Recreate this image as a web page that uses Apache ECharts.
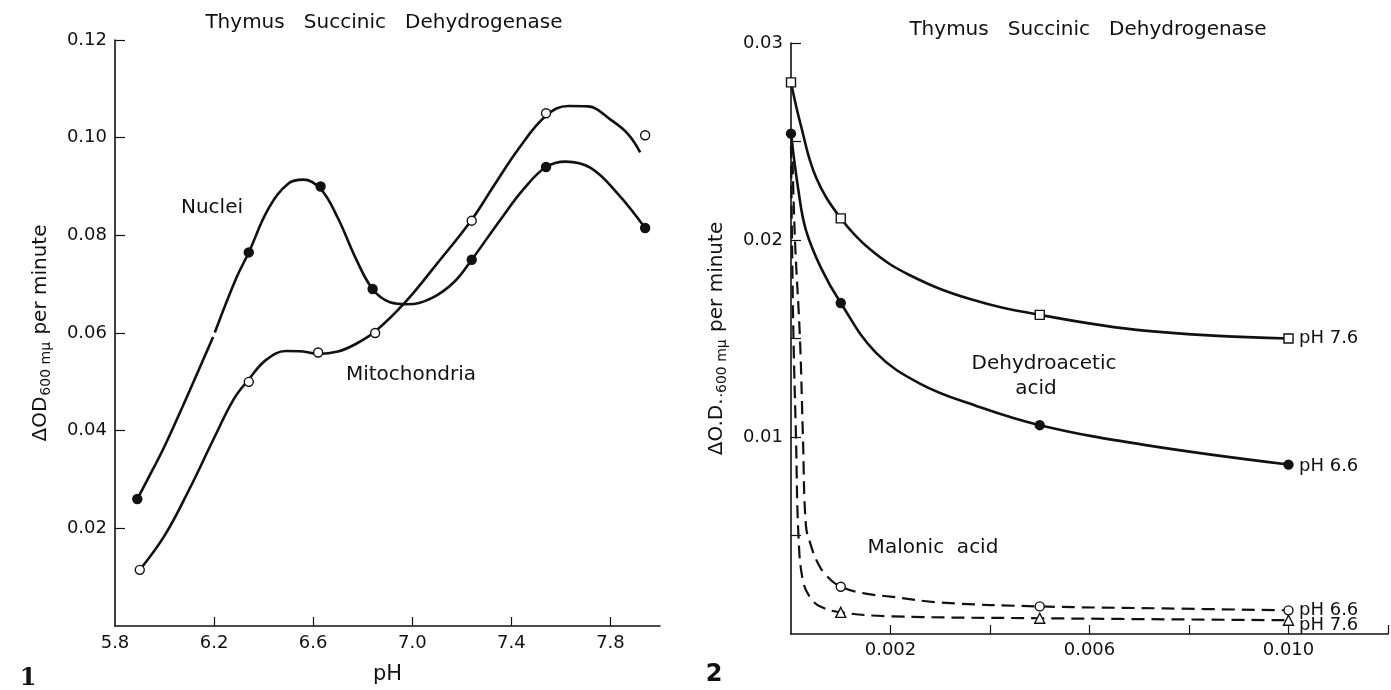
<!DOCTYPE html>
<html><head><meta charset="utf-8">
<script src="https://cdn.jsdelivr.net/npm/echarts@6/dist/echarts.min.js"></script>
<style>html,body{margin:0;padding:0;background:#fff}#c{width:1391px;height:690px}</style>
</head><body><div id="c"></div>
<script>
// ---------- Figure 1: activity vs pH ----------
const fig1XTicks = [6.2, 6.6, 7.0, 7.4, 7.8];
const fig1XLabels = [5.8, 6.2, 6.6, 7.0, 7.4, 7.8];
const fig1YTicks = [0.02, 0.04, 0.06, 0.08, 0.10, 0.12];
const nucleiPoints = [[5.89,0.026],[6.34,0.0765],[6.63,0.090],[6.84,0.069],[7.24,0.075],[7.54,0.094],[7.94,0.0815]];
const mitoPoints = [[5.90,0.0115],[6.34,0.050],[6.62,0.056],[6.85,0.060],[7.24,0.083],[7.54,0.105],[7.94,0.1005]];
// hand-drawn curves (nuclei curve has a small break near pH 6.2)
const nucleiCurveA = [[5.89,0.026],[5.95,0.0318],[6.0,0.0368],[6.09,0.0469],[6.196,0.0592]];
const nucleiCurveB = [[6.203,0.0601],[6.29,0.0713],[6.34,0.0765],[6.42,0.0855],[6.5,0.0906],[6.56,0.0914],[6.63,0.0895],[6.7,0.0835],[6.77,0.0755],[6.84,0.069],[6.91,0.0663],[6.98,0.0659],[7.08,0.0672],[7.17,0.0705],[7.24,0.075],[7.35,0.0828],[7.45,0.0895],[7.54,0.094],[7.62,0.0951],[7.72,0.0938],[7.83,0.0885],[7.94,0.0815]];
const mitoCurve = [[5.90,0.0115],[6.0,0.0185],[6.1,0.028],[6.2,0.0385],[6.28,0.0465],[6.34,0.0505],[6.41,0.0545],[6.49,0.0563],[6.56,0.0562],[6.62,0.0557],[6.7,0.0562],[6.77,0.0577],[6.85,0.0603],[6.97,0.0662],[7.1,0.0742],[7.24,0.0832],[7.33,0.0902],[7.43,0.0978],[7.54,0.1045],[7.63,0.1065],[7.71,0.1064],[7.8,0.1037],[7.87,0.1008],[7.92,0.097]];

// ---------- Figure 2: activity vs inhibitor concentration ----------
const fig2XTicks = [0.002, 0.004, 0.006, 0.008, 0.010, 0.012];
const fig2XLabels = [0.002, 0.006, 0.010];
const fig2YTicks = [0.005, 0.010, 0.015, 0.020, 0.025, 0.030];
const fig2YLabels = [0.01, 0.02, 0.03];
const dha76Points = [[0,0.028],[0.001,0.0211],[0.005,0.0162],[0.010,0.0150]];
const dha66Points = [[0,0.0254],[0.001,0.0168],[0.005,0.0106],[0.010,0.0086]];
const mal66Points = [[0.001,0.0024],[0.005,0.0014],[0.010,0.0012]];
const mal76Points = [[0.001,0.0011],[0.005,0.0008],[0.010,0.0007]];
const dha76Curve = [[0,0.028],[0.0002,0.0258],[0.0005,0.0232],[0.001,0.0211],[0.0016,0.0195],[0.0024,0.0182],[0.0036,0.0170],[0.005,0.0162],[0.0071,0.0154],[0.010,0.0150]];
const dha66Curve = [[0,0.0254],[0.00015,0.0225],[0.0003,0.0205],[0.0006,0.0186],[0.001,0.0168],[0.0017,0.0143],[0.0026,0.0127],[0.0037,0.0116],[0.005,0.0106],[0.0071,0.0096],[0.010,0.0086]];
const mal66Curve = [[0.00002,0.025],[0.00008,0.020],[0.00018,0.015],[0.00024,0.010],[0.0003,0.0055],[0.0004,0.0045],[0.00052,0.0037],[0.0007,0.0030],[0.001,0.0024],[0.0015,0.00205],[0.002,0.0019],[0.003,0.0016],[0.005,0.0014],[0.0075,0.0013],[0.010,0.0012]];
const mal76Curve = [[0.0,0.0248],[0.00002,0.020],[0.00005,0.015],[0.0001,0.010],[0.00015,0.005],[0.00024,0.0027],[0.0004,0.0018],[0.0006,0.00138],[0.001,0.0011],[0.002,0.0009],[0.005,0.0008],[0.010,0.0007]];

const FONT = 'DejaVu Sans';
const K = '#111';
const chart = echarts.init(document.getElementById('c'), null, {renderer: 'canvas'});

function curve(data, xi, dashed) {
  return {type: 'line', xAxisIndex: xi, yAxisIndex: xi, data: data, smooth: 0.4,
    showSymbol: false, silent: true, z: 2, clip: false,
    lineStyle: {color: K, width: dashed ? 2.2 : 2.6, type: dashed ? [13, 7] : 'solid'}};
}
function pts(data, xi, symbol, filled) {
  return {type: 'scatter', xAxisIndex: xi, yAxisIndex: xi, data: data, symbol: symbol, symbolSize: symbol === 'triangle' ? 10 : 9, z: 5,
    itemStyle: {color: filled ? K : '#fff', borderColor: K, borderWidth: 1.4, opacity: 1}};
}
const tickStyle = {color: K, width: 1.2};
const labelBase = {color: K, fontFamily: FONT, fontSize: 18};

const option = {
  backgroundColor: '#fff',
  animation: false,
  textStyle: {fontFamily: FONT},
  grid: [
    {left: 115, top: 40, width: 545, height: 591},
    {left: 791, top: 43, width: 597, height: 591}
  ],
  xAxis: [
    {type: 'value', gridIndex: 0, min: 5.8, max: 8.0, splitLine: {show: false},
      axisLine: {onZero: false, lineStyle: {color: K, width: 1.6}},
      axisTick: {inside: true, length: 9, lineStyle: tickStyle, customValues: fig1XTicks},
      axisLabel: Object.assign({}, labelBase, {margin: 8, customValues: fig1XLabels, formatter: v => v.toFixed(1)}),
      name: 'pH', nameLocation: 'middle', nameGap: 38, nameTextStyle: {color: K, fontFamily: FONT, fontSize: 21}},
    {type: 'value', gridIndex: 1, min: 0, max: 0.012, splitLine: {show: false},
      axisLine: {onZero: false, lineStyle: {color: K, width: 1.6}},
      axisTick: {inside: true, length: 9, lineStyle: tickStyle, customValues: fig2XTicks},
      axisLabel: Object.assign({}, labelBase, {margin: 7, customValues: fig2XLabels, formatter: v => v.toFixed(3)})}
  ],
  yAxis: [
    {type: 'value', gridIndex: 0, min: 0, max: 0.12, splitLine: {show: false},
      axisLine: {onZero: false, lineStyle: {color: K, width: 1.6}},
      axisTick: {inside: true, length: 10, lineStyle: tickStyle, customValues: fig1YTicks},
      axisLabel: Object.assign({}, labelBase, {margin: 8, customValues: fig1YTicks, formatter: v => v.toFixed(2)}),
      name: '{m|ΔOD}{s|600 mμ}{m| per minute}', nameLocation: 'middle', nameGap: 62,
      nameTextStyle: {color: K, fontFamily: FONT, rich: {m: {fontSize: 20, fontFamily: FONT, color: K}, s: {fontSize: 14, fontFamily: FONT, color: K, padding: [10, 1, 0, 1]}}}},
    {type: 'value', gridIndex: 1, min: 0, max: 0.03, splitLine: {show: false},
      axisLine: {onZero: false, lineStyle: {color: K, width: 1.6}},
      axisTick: {inside: true, length: 10, lineStyle: tickStyle, customValues: fig2YTicks},
      axisLabel: Object.assign({}, labelBase, {margin: 8, customValues: fig2YLabels, formatter: v => v.toFixed(2)}),
      name: '{m|ΔO.D.}{s|·600 mμ}{m| per minute}', nameLocation: 'middle', nameGap: 62,
      nameTextStyle: {color: K, fontFamily: FONT, rich: {m: {fontSize: 20, fontFamily: FONT, color: K}, s: {fontSize: 14, fontFamily: FONT, color: K, padding: [10, 1, 0, 1]}}}}
  ],
  series: [
    curve(nucleiCurveA, 0, false), curve(nucleiCurveB, 0, false), curve(mitoCurve, 0, false),
    pts(nucleiPoints, 0, 'circle', true), pts(mitoPoints, 0, 'circle', false),
    curve(dha76Curve, 1, false), curve(dha66Curve, 1, false),
    curve(mal66Curve, 1, true), curve(mal76Curve, 1, true),
    pts(dha76Points, 1, 'rect', false), pts(dha66Points, 1, 'circle', true),
    pts(mal66Points, 1, 'circle', false), pts(mal76Points, 1, 'triangle', false)
  ],
  graphic: [
    {type: 'text', x: 384, y: 23, style: {text: 'Thymus   Succinic   Dehydrogenase', fontFamily: FONT, fontSize: 20, fill: K, align: 'center', verticalAlign: 'middle'}},
    {type: 'text', x: 1088, y: 30, style: {text: 'Thymus   Succinic   Dehydrogenase', fontFamily: FONT, fontSize: 20, fill: K, align: 'center', verticalAlign: 'middle'}},
    {type: 'text', x: 212, y: 208, style: {text: 'Nuclei', fontFamily: FONT, fontSize: 20, fill: K, align: 'center', verticalAlign: 'middle'}},
    {type: 'text', x: 411, y: 375, style: {text: 'Mitochondria', fontFamily: FONT, fontSize: 20, fill: K, align: 'center', verticalAlign: 'middle'}},
    {type: 'text', x: 1044, y: 364, style: {text: 'Dehydroacetic', fontFamily: FONT, fontSize: 20, fill: K, align: 'center', verticalAlign: 'middle'}},
    {type: 'text', x: 1036, y: 389, style: {text: 'acid', fontFamily: FONT, fontSize: 20, fill: K, align: 'center', verticalAlign: 'middle'}},
    {type: 'text', x: 933, y: 548, style: {text: 'Malonic  acid', fontFamily: FONT, fontSize: 20, fill: K, align: 'center', verticalAlign: 'middle'}},
    {type: 'text', x: 1299, y: 338, style: {text: 'pH 7.6', fontFamily: FONT, fontSize: 18, fill: K, align: 'left', verticalAlign: 'middle'}},
    {type: 'text', x: 1299, y: 466, style: {text: 'pH 6.6', fontFamily: FONT, fontSize: 18, fill: K, align: 'left', verticalAlign: 'middle'}},
    {type: 'text', x: 1299, y: 610, style: {text: 'pH 6.6', fontFamily: FONT, fontSize: 18, fill: K, align: 'left', verticalAlign: 'middle'}},
    {type: 'text', x: 1299, y: 625, style: {text: 'pH 7.6', fontFamily: FONT, fontSize: 18, fill: K, align: 'left', verticalAlign: 'middle'}},
    {type: 'text', x: 28, y: 679, style: {text: '1', fontFamily: 'DejaVu Serif', fontWeight: 'bold', fontSize: 24, fill: K, align: 'center', verticalAlign: 'middle'}},
    {type: 'text', x: 714, y: 675, style: {text: '2', fontFamily: FONT, fontWeight: 'bold', fontSize: 24, fill: K, align: 'center', verticalAlign: 'middle'}}
  ]
};
chart.setOption(option);
</script></body></html>
